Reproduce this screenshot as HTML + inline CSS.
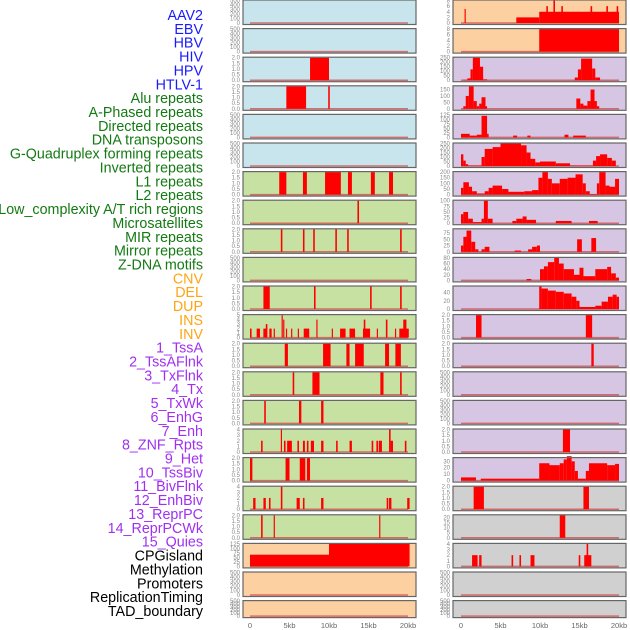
<!DOCTYPE html>
<html><head><meta charset="utf-8"><style>
html,body{margin:0;padding:0;background:#fff;}
svg{display:block;font-family:"Liberation Sans",sans-serif;}
</style></head><body>
<svg id="chart" width="630" height="630" viewBox="0 0 630 630" xmlns="http://www.w3.org/2000/svg"></svg>
<script>
const labels = ["AAV2","EBV","HBV","HIV","HPV","HTLV-1","Alu repeats","A-Phased repeats","Directed repeats","DNA transposons","G-Quadruplex forming repeats","Inverted repeats","L1 repeats","L2 repeats","Low_complexity A/T rich regions","Microsatellites","MIR repeats","Mirror repeats","Z-DNA motifs","CNV","DEL","DUP","INS","INV","1_TssA","2_TssAFlnk","3_TxFlnk","4_Tx","5_TxWk","6_EnhG","7_Enh","8_ZNF_Rpts","9_Het","10_TssBiv","11_BivFlnk","12_EnhBiv","13_ReprPC","14_ReprPCWk","15_Quies","CPGisland","Methylation","Promoters","ReplicationTiming","TAD_boundary"];
const labelGroups = [6,13,5,15,5];
const groupColors = ["#1a1aff","#137a13","#ffa515","#a030f0","#000000"];
const xTicks = [0,5,10,15,20];
const xTickLabels = ["0","5kb","10kb","15kb","20kb"];
const leftBg = ["b","b","b","b","b","b","g","g","g","g","g","g","g","g","g","g","g","g","g","p","p","p"];
const rightBg = ["p","p","l","l","l","l","l","l","l","l","l","l","l","l","l","l","l","c","c","c","c","c"];
const leftMax = [500,500,2,2,500,500,2,2,2,500,2,5,2,2,2,4,2,4,2,125,500,500];
const rightMax = [8,8,250,175,125,250,200,100,90,80,55,2,2,500,500,2,35,2,22,4,500,500];
const leftData = [
 [],[],
 [[7.6,10.0,2]],
 [[4.6,7.1,2],[9.9,10.1,2]],
 [],[],
 [[3.7,4.6,2],[6.7,7.2,2],[9.5,11.5,2],[12.4,12.9,2],[15.3,15.8,2],[17.6,18.1,2]],
 [[13.6,13.8,2]],
 [[3.9,4.1,2],[6.7,6.9,2],[8.0,8.2,2],[10.8,11.0,2],[12.3,12.5,2],[19.0,19.2,2]],
 [],
 [[1.7,2.5,2],[8.1,8.3,2],[15.2,15.4,2],[19.0,19.2,2]],
 [[0,0.2,2],[0.84,1.26,2],[1.69,2.11,2],[2.0,2.2,3],[2.45,2.74,2],[3.0,3.15,2],[4.0,4.15,5],[4.2,4.35,4],[4.55,4.7,2],[5.2,5.35,2],[6.05,6.2,2],[6.8,7.5,2],[8.4,8.55,4],[10.35,10.5,2],[11.4,12.1,2],[12.6,13.3,2],[14.3,15.2,2],[14.4,14.6,4],[16.05,16.2,2],[17.2,17.4,4],[18.35,18.5,2],[18.9,20.1,2],[19.4,19.8,4]],
 [[4.4,4.8,2],[9.25,10.2,2],[12.2,12.6,2],[13.3,14.4,2],[17.1,17.6,2],[18.4,19.1,2]],
 [[5.4,5.6,2],[7.9,8.8,2],[16.5,16.9,2],[19.0,19.2,2]],
 [[1.8,2.0,2],[6.2,6.5,2],[9.0,9.3,2]],
 [[1.4,1.6,2],[3.9,4.05,4],[4.3,4.5,2],[4.7,5.3,2],[6.0,6.2,2],[6.7,6.95,2],[7.2,7.4,2],[7.7,8.1,2],[9.0,9.3,2],[10.9,11.1,2],[12.6,12.9,2],[15.4,15.6,2],[16.0,16.2,2],[16.3,16.7,2],[17.6,17.8,4],[17.8,18.1,2],[19.6,19.8,2]],
 [[0,0.3,2],[4.5,5.0,2],[6.3,7.0,2],[7.2,7.6,2]],
 [[0.4,0.7,2],[1.7,2.0,2],[2.4,2.6,2],[3.9,4.1,4],[5.9,6.3,2],[6.7,6.9,2],[9.0,9.3,2],[17.3,17.5,2],[17.6,17.9,2],[19.9,20.2,2]],
 [[1.4,1.6,2],[3.0,3.15,2],[16.35,16.5,2]],
 [[0,10,65],[10,20.2,125]],
 [],[]
];
const rightData = [
 [[0.45,0.6,5],[7.0,9.9,2],[9.9,20,4],[10.8,11.0,6],[11.7,11.9,8],[12.7,12.9,6],[16.4,16.6,6],[18.4,18.6,6],[19.7,19.9,6]],
 [[9.9,20,8]],
 [[0.3,0.8,5],[0.8,1.2,20],[1.2,1.5,120],[1.5,2.4,250],[2.4,2.8,150],[2.8,3.3,10],[14.4,14.8,30],[14.8,15.2,120],[15.2,16.6,240],[16.6,17.0,130],[17.0,17.6,30]],
 [[0.3,0.6,20],[0.6,1.0,100],[1.0,1.6,175],[1.6,2.0,60],[2.0,2.3,20],[2.3,2.6,40],[2.6,3.1,90],[3.1,3.3,20],[14.6,15.1,80],[15.1,15.5,40],[15.5,16.0,25],[16.0,16.4,60],[16.4,16.9,150],[16.9,17.2,60],[17.2,17.5,20]],
 [[0,1.1,20],[1.1,2.0,10],[2.0,2.6,15],[2.6,3.3,120],[3.3,3.5,20],[6.6,7.1,10],[8.4,8.8,10],[13.1,13.6,15],[14.2,15.8,10]],
 [[0,0.3,130],[0.3,0.6,60],[0.6,0.9,20],[0.9,2.6,5],[2.6,3.0,100],[3.0,4.0,190],[4.0,5.0,210],[5.0,7.6,250],[7.6,8.3,230],[8.3,8.8,150],[8.8,9.4,80],[9.4,10,40],[10,12,50],[12,13.8,30],[13.8,16.7,5],[16.7,17.1,60],[17.1,17.6,110],[17.6,18.5,130],[18.5,19.1,90],[19.1,19.6,60]],
 [[0,0.3,60],[0.3,1.0,110],[1.0,1.4,70],[1.4,2.0,30],[2.0,3.0,10],[3.0,3.5,30],[3.5,4.0,60],[4.0,5.2,80],[5.2,6.0,50],[6.0,8.0,25],[8.0,9.0,30],[9.0,9.8,40],[9.8,10.3,150],[10.3,11.0,200],[11.0,11.5,140],[11.5,12.5,100],[12.5,13.5,140],[13.5,14.5,150],[14.5,15.4,180],[15.4,15.8,100],[15.8,16.3,30],[16.3,17.2,5],[17.2,17.5,100],[17.5,18.3,200],[18.3,18.8,80],[18.8,19.5,70],[19.5,20,140]],
 [[0,0.3,40],[0.3,0.9,50],[0.9,1.5,20],[1.5,2.6,5],[2.6,2.9,20],[2.9,3.4,100],[3.4,4.0,20],[6.5,7.0,10],[7.0,7.8,20],[7.8,8.3,30],[8.3,9.5,15],[12.0,14.0,10],[16.2,17.3,10]],
 [[0,0.3,25],[0.3,0.7,60],[0.7,1.3,85],[1.3,1.8,40],[1.8,2.2,10],[2.6,3.0,10],[3.0,3.6,20],[6.8,7.6,5],[8.5,9.0,10],[9.0,9.6,20],[9.6,10,25],[14.7,15.3,50],[16.5,17.1,55]],
 [[8.3,8.9,5],[10,10.5,40],[10.5,11.0,50],[11.0,11.8,65],[11.8,12.4,80],[12.4,13.0,60],[13.0,14.3,40],[14.3,15.0,20],[15.0,15.5,45],[15.5,17.0,15],[17.0,18.5,40],[18.5,19.0,48],[19.0,19.6,25],[19.6,20,10]],
 [[9.9,10.2,55],[10.2,11.0,50],[11.0,12.0,45],[12.0,13.0,42],[13.0,14.0,38],[14.0,14.6,30],[14.6,15.0,20],[15.0,17.0,5],[17.0,17.8,8],[17.8,18.6,18],[18.6,19.2,30],[19.2,19.7,35],[19.7,20,30]],
 [[1.9,2.6,2],[15.8,16.6,2]],
 [[16.5,16.8,2]],
 [],[],
 [[12.9,13.8,2]],
 [[0,1.9,5],[2.5,9.9,3],[9.9,11.2,27],[11.2,12.5,24],[12.5,13.0,27],[13.0,13.4,33],[13.4,14.0,38],[14.0,14.4,30],[14.4,14.8,15],[14.8,15.8,3],[15.8,16.2,15],[16.2,18.5,27],[18.5,19.5,24],[19.5,20,26]],
 [[1.6,2.9,2],[15.5,16.2,2]],
 [[12.5,13.2,22]],
 [[1.4,2.1,2],[2.3,2.6,2],[6.4,6.6,2],[7.4,7.6,2],[8.8,9.3,2],[14.9,15.1,2],[15.6,16.5,2],[15.9,16.1,4]],
 [],[]
];
const bgColors = {b:"#c8e4ec",g:"#c7e1a3",p:"#fdd0a2",l:"#d6c6e3",c:"#d0d0d0"};
function tickList(m){
  if(m===500) return [0,100,200,300,400,500];
  if(m===2) return [0,0.5,1,1.5,2];
  if(m===4) return [0,1,2,3,4];
  if(m===5) return [0,1,2,3,4,5];
  if(m===8) return [0,2,4,6,8];
  if(m===250) return [0,50,100,150,200,250];
  if(m===175) return [0,50,100,150];
  if(m===125) return [0,25,50,75,100,125];
  if(m===200) return [0,50,100,150,200];
  if(m===100) return [0,25,50,75,100];
  if(m===90) return [0,25,50,75];
  if(m===80) return [0,20,40,60,80];
  if(m===55) return [0,20,40];
  if(m===35) return [0,10,20,30];
  if(m===22) return [0,5,10,15,20];
  return [0,m];
}
function fmt(v,m){ return (m===2) ? v.toFixed(1) : String(v); }
const svg = document.getElementById('chart');
const NS = "http://www.w3.org/2000/svg";
function mk(tag, attrs, parent){ const e=document.createElementNS(NS,tag); for(const k in attrs) e.setAttribute(k,attrs[k]); (parent||svg).appendChild(e); return e; }
let li=0;
labelGroups.forEach((n,g)=>{ for(let k=0;k<n;k++){ const t=mk('text',{x:203,y:15+li*13.86+5,'text-anchor':'end','font-size':'14.3',fill:groupColors[g]}); t.textContent=labels[li];
 
 
 li++; } });
const cols = [{x0:243,x1:416,d0:250,d1:408,tx:240},{x0:453,x1:626,d0:461,d1:619,tx:450}];
function xs(c,kb){ return c.d0 + (c.d1-c.d0)*kb/20; }
for(let r=0;r<22;r++){
  const top = r*28.6, h = (r===21)?17:24.5;
  [0,1].forEach(ci=>{
    const c = cols[ci];
    const bg = ci===0?leftBg[r]:rightBg[r];
    const m = ci===0?leftMax[r]:rightMax[r];
    const data = ci===0?leftData[r]:rightData[r];
    const g = mk('g',{});
    
    
    mk('rect',{x:c.x0,y:top,width:c.x1-c.x0,height:h,fill:bgColors[bg]},g);
    const yb = top+h-1.5, yt = top+0.5;
    const ys = v => yb - (yb-yt)*v/m;
    mk('line',{x1:xs(c,0),x2:xs(c,20),y1:yb,y2:yb,stroke:'#d04040','stroke-width':1.5,'stroke-opacity':0.7},g);
    data.forEach(s=>{
      const b = mk('rect',{x:xs(c,s[0]),y:ys(s[2]),width:Math.max(1,xs(c,s[1])-xs(c,s[0])),height:yb-ys(s[2]),fill:'#ff0000'},g);
      
      
    });
    mk('rect',{x:c.x0,y:top,width:c.x1-c.x0,height:h,fill:'none',stroke:'#666','stroke-width':1.2},g);
    tickList(m).forEach(v=>{
      const t = mk('text',{x:c.tx,y:ys(v)+2,'text-anchor':'end','font-size':'6',fill:'#888'},g);
      t.textContent = fmt(v,m);
    });
  });
}
cols.forEach(c=>{
  xTicks.forEach((v,i)=>{
    const t = mk('text',{x:xs(c,v),y:628,'text-anchor':'middle','font-size':'7.5',fill:'#666'});
    t.textContent = xTickLabels[i];
    
    
  });
});
</script>
</body></html>
